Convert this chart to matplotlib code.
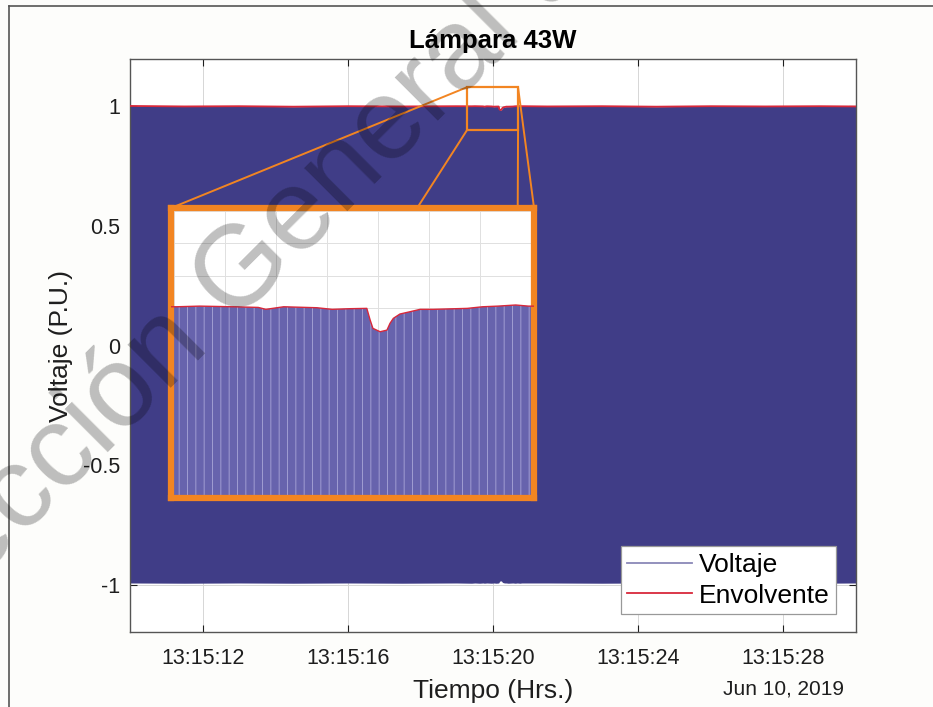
import numpy as np
import pandas as pd
import matplotlib
matplotlib.use("Agg")
import matplotlib.pyplot as plt
import matplotlib.dates as mdates
import matplotlib.transforms as mtransforms
from matplotlib.lines import Line2D
from matplotlib.patches import Rectangle, ConnectionPatch

plt.rcParams["font.family"] = ["Liberation Sans", "DejaVu Sans"]
plt.rcParams["hatch.linewidth"] = 0.7

# Data #########################################################################
t0 = pd.Timestamp("2019-06-10 13:15:00")

# seconds after 13:15:00
t_sec = [10.00, 11.50, 13.00, 14.50, 16.00, 17.50, 19.00,
         19.41, 19.50, 19.63, 19.73, 19.76, 19.83, 19.96, 20.02, 20.09, 20.156,
         20.169, 20.18, 20.208, 20.235, 20.247, 20.26, 20.286, 20.325, 20.365,
         20.417, 20.55, 20.61, 20.67, 20.74, 20.79,
         21.50, 23.00, 24.50, 26.00, 27.50, 29.00, 30.00]

# upper envelope (P.U.)
env_up = [1.002, 1.000, 1.001, 0.999, 1.001, 1.000, 1.001,
          1.0007, 1.0011, 1.0007, 1.0003, 0.9991, 1.0007, 1.0001, 0.9991, 0.9995, 0.9997,
          0.9925, 0.9873, 0.9852, 0.9862, 0.9904, 0.9935, 0.9962, 0.9976, 0.9991,
          0.9991, 0.9997, 1.0007, 1.0011, 1.0018, 1.0011,
          1.000, 1.001, 0.999, 1.001, 1.000, 1.001, 1.000]

# lower envelope (P.U.)
env_lo = [-0.993, -0.994, -0.993, -0.994, -0.993, -0.994, -0.993,
          -0.994, -0.993, -0.994, -0.993, -0.994, -0.993, -0.994, -0.993, -0.994, -0.993,
          -0.990, -0.986, -0.984, -0.985, -0.988, -0.990, -0.992, -0.993, -0.993,
          -0.994, -0.993, -0.994, -0.993, -0.994, -0.993,
          -0.993, -0.994, -0.993, -0.994, -0.993, -0.994, -0.993]

xlim_sec = [10, 30]
xtick_sec = [12, 16, 20, 24, 28]
yticks = [-1, -0.5, 0, 0.5, 1]
yticklabels = ["-1", "-0.5", "0", "0.5", "1"]

# zoom window drawn on main axes, and the inset limits
zoom_sec = [19.28, 20.69]
zoom_y = [0.90, 1.08]
inset_sec = [19.388, 20.812]
inset_y = [0.882, 1.062]

# Style ########################################################################
volt_color = "#403d87"
volt_inset = "#6763ad"
env_color = "#d8283a"
orange = "#f28522"
grid_color = "#d6d6d6"
txt_color = "#1e1e1e"


def sec2num(s):
    s = np.atleast_1d(np.asarray(s, dtype=float))
    return mdates.date2num((t0 + pd.to_timedelta(s, unit="s")).to_pydatetime())


tt = sec2num(t_sec)

# Figure #######################################################################
fig = plt.figure(figsize=(9.33, 7.07), dpi=100, facecolor="#fdfdfb")
ax = fig.add_axes([0.1393, 0.1054, 0.7782, 0.8117])
ax.set_facecolor("white")
ax.set_axisbelow(True)

ax.fill_between(tt, env_lo, env_up, color=volt_color, lw=0, zorder=2)
ax.plot(tt, env_up, color=env_color, lw=1.3, zorder=3)

ax.set_xlim(sec2num(xlim_sec))
ax.set_ylim(-1.2, 1.2)
ax.set_xticks(sec2num(xtick_sec))
ax.xaxis.set_major_formatter(mdates.DateFormatter("%H:%M:%S"))
ax.set_yticks(yticks)
ax.set_yticklabels(yticklabels)
ax.tick_params(direction="in", length=5, width=0.8, top=True, right=True,
               labelsize=15.5, colors=txt_color)
ax.tick_params(axis="x", pad=11)
ax.tick_params(axis="y", pad=7)
ax.grid(True, color=grid_color, lw=0.7)
for sp in ax.spines.values():
    sp.set_color("#555555")
    sp.set_linewidth(1.0)

ax.set_ylabel("Voltaje (P.U.)", fontsize=19, color=txt_color)
ax.yaxis.set_label_coords(-0.078, 0.5)
ax.set_xlabel("Tiempo (Hrs.)", fontsize=19, color=txt_color)
ax.xaxis.set_label_coords(0.5, -0.081)
ax.text(0.5, 1.03, "Lámpara 43W", transform=ax.transAxes, ha="center", va="center",
        fontsize=18.5, fontweight="bold", color="black")
trans = mtransforms.blended_transform_factory(ax.transData, ax.transAxes)
ax.text(sec2num(28)[0], -0.098, "Jun 10, 2019", transform=trans, ha="center", va="center",
        fontsize=15, color=txt_color)

handles = [Line2D([], [], color="#8a88b8", lw=1.3),
           Line2D([], [], color=env_color, lw=1.3)]
leg = ax.legend(handles, ["Voltaje", "Envolvente"], loc="lower right",
                bbox_to_anchor=(0.9725, 0.032), borderaxespad=0, fontsize=19,
                fancybox=False, framealpha=1, edgecolor="#999999",
                borderpad=0.25, labelspacing=0.25, handlelength=2.45, handletextpad=0.25)
leg.get_frame().set_linewidth(0.9)
leg.set_zorder(6)

# zoom rectangle on the main axes
zx = sec2num(zoom_sec)
ax.add_patch(Rectangle((zx[0], zoom_y[0]), zx[1] - zx[0], zoom_y[1] - zoom_y[0],
                       fill=False, edgecolor=orange, lw=1.6, zorder=5))

# Inset ########################################################################
axin = fig.add_axes([0.1833, 0.2956, 0.3891, 0.4102])
axin.set_facecolor("white")
axin.set_axisbelow(True)
axin.fill_between(tt, env_lo, env_up, facecolor=volt_inset, edgecolor="#a09dd2",
                  hatch="||", lw=0, zorder=2)
axin.plot(tt, env_up, color=env_color, lw=1.0, zorder=3)
axin.set_xlim(sec2num(inset_sec))
axin.set_ylim(inset_y)
axin.set_xticks(sec2num(np.arange(19.4, 20.81, 0.2)))
axin.set_yticks(np.arange(0.90, 1.061, 0.02))
axin.grid(True, color="#e0e0e0", lw=0.7)
axin.tick_params(length=0, labelbottom=False, labelleft=False)
for sp in axin.spines.values():
    sp.set_color(orange)
    sp.set_linewidth(4.5)

# connector lines between zoom window and inset
conns = [((zx[0], zoom_y[1]), (0.0, 1.0)),
         ((zx[0], zoom_y[0]), (0.678, 1.0)),
         ((zx[1], zoom_y[1]), (1.0, 1.0)),
         ((zx[1], zoom_y[0]), (0.955, 1.0))]
for pa, pb in conns:
    cp = ConnectionPatch(xyA=pa, coordsA=ax.transData, xyB=pb, coordsB=axin.transAxes,
                         color=orange, lw=1.4, zorder=4)
    fig.add_artist(cp)

# Watermark and frame ##########################################################
fig.text(-0.138, 0.028, "Dirección General de Bibliotecas UAQ", rotation=45,
         rotation_mode="anchor", ha="left", va="baseline", fontsize=83,
         color="black", alpha=0.25, zorder=20)
fig.add_artist(Line2D([9 / 933, 9 / 933], [0, 1 - 6 / 707], transform=fig.transFigure,
                      color="#555555", lw=1.2))
fig.add_artist(Line2D([9 / 933, 1], [1 - 6 / 707, 1 - 6 / 707], transform=fig.transFigure,
                      color="#555555", lw=1.2))

fig.savefig("out.png", dpi=100, facecolor=fig.get_facecolor())
